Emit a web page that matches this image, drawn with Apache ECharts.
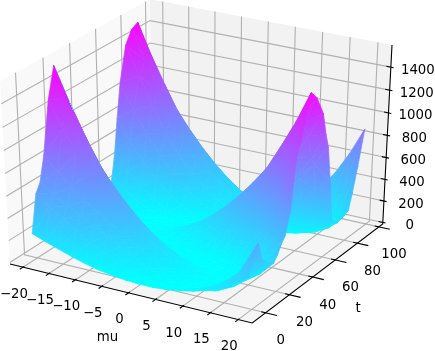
<!DOCTYPE html>
<html>
<head>
<meta charset="utf-8">
<style>
* { margin: 0; padding: 0; }
html, body { background: #fff; }
#chart-container { width: 435px; height: 351px; overflow: hidden; }
</style>
<script src="https://cdn.jsdelivr.net/npm/echarts@6/dist/echarts.min.js"></script>
</head>
<body>
<div id="chart-container"></div>
<script>
// surface samples, one row per t
const muValues = [-20, -17.5, -15, -12.5, -10, -7.5, -5, -2.5, 0, 2.5, 5, 7.5, 10, 12.5, 15, 17.5, 20]
const tValues = [-3, 1, 4.5, 8, 13, 18, 21, 24, 27, 31, 35, 39, 42.5, 46, 51, 57, 60, 62.5, 65, 68, 73, 78, 83, 86, 90, 95]
const zRows = [
    [230, 185, 145, 105, 70, 42, 22, 8, 1, 1, 10, 28, 55, 90, 135, 205, 300],
    [560, 470, 390, 310, 235, 172, 105, 55, 21, 3, 1, 16, 47, 94, 170, 280, 430],
    [640, 560, 480, 420, 360, 300, 220, 150, 91, 43, 13, 0, 6, 28, 120, 270, 540],
    [850, 730, 620, 530, 450, 370, 290, 210, 145, 81, 36, 9, 0, 9, 70, 190, 370],
    [1300, 1080, 900, 760, 640, 520, 400, 294, 202, 126, 69, 28, 6, 0, 60, 160, 300],
    [1560, 1290, 1040, 815, 653, 511, 386, 278, 188, 116, 61, 24, 4, 1, 50, 130, 260],
    [1450, 1180, 950, 740, 570, 429, 315, 219, 140, 79, 35, 9, 0, 9, 70, 170, 310],
    [1065, 848, 678, 532, 405, 294, 202, 126, 69, 28, 6, 0, 13, 42, 90, 200, 380],
    [932, 741, 588, 454, 336, 237, 154, 90, 42, 13, 0, 6, 28, 69, 130, 250, 430],
    [773, 617, 479, 358, 255, 169, 101, 50, 17, 1, 3, 22, 59, 113, 200, 390, 620],
    [505, 381, 274, 185, 113, 59, 22, 3, 1, 17, 50, 101, 169, 255, 400, 700, 1050],
    [274, 185, 113, 59, 22, 3, 1, 17, 50, 101, 169, 255, 358, 479, 640, 880, 1200],
    [169, 101, 50, 17, 1, 3, 22, 59, 113, 185, 274, 381, 505, 647, 815, 1020, 1380],
    [99, 49, 16, 1, 4, 24, 61, 116, 188, 278, 386, 511, 653, 813, 1030, 1260, 1530],
    [113, 59, 22, 3, 1, 17, 50, 101, 169, 255, 358, 479, 617, 773, 975, 1204, 1454],
    [154, 90, 42, 13, 0, 6, 28, 69, 126, 202, 294, 405, 532, 678, 848, 1065, 1280],
    [300, 190, 110, 50, 15, 0, 5, 25, 64, 120, 190, 280, 390, 510, 660, 850, 1080],
    [500, 350, 230, 140, 70, 25, 1, 17, 50, 101, 169, 255, 358, 479, 617, 773, 950],
    [790, 600, 440, 300, 190, 105, 45, 10, 6, 28, 69, 126, 202, 294, 405, 532, 650],
    [1090, 870, 680, 510, 370, 255, 165, 95, 40, 10, 0, 9, 35, 79, 130, 190, 270],
    [1390, 1150, 900, 680, 500, 358, 255, 169, 101, 50, 17, 1, 3, 22, 59, 113, 200],
    [1500, 1250, 1000, 790, 617, 479, 358, 255, 169, 101, 50, 17, 1, 3, 22, 90, 210],
    [1530, 1263, 1029, 813, 653, 511, 386, 278, 188, 116, 61, 24, 4, 1, 20, 90, 240],
    [1352, 1110, 890, 709, 560, 429, 315, 219, 140, 79, 35, 9, 0, 9, 40, 130, 380],
    [975, 773, 617, 479, 358, 255, 169, 101, 50, 17, 1, 3, 22, 59, 160, 340, 590],
    [926, 718, 538, 382, 254, 151, 76, 25, 2, 4, 34, 88, 170, 290, 450, 650, 890]
]
const muTicks = [-20, -15, -10, -5, 0, 5, 10, 15, 20]
const tTicks = [0, 20, 40, 60, 80, 100]
const zTicks = [0, 200, 400, 600, 800, 1000, 1200, 1400]

const muLim = [-22.5, 22.5]
const tLim = [-11, 103.5]
const zLim = [-15, 1590]
const colorMax = 1580

// same camera as a default mplot3d view, unit cube
const elev = 30 * Math.PI / 180
const azim = -60 * Math.PI / 180
const dist = 10
const boxAspect = [1, 1, 1]

function cross(a, b) {
    return [a[1] * b[2] - a[2] * b[1], a[2] * b[0] - a[0] * b[2], a[0] * b[1] - a[1] * b[0]]
}
function dot(a, b) {
    return a[0] * b[0] + a[1] * b[1] + a[2] * b[2]
}
function unit(a) {
    const n = Math.sqrt(dot(a, a))
    return [a[0] / n, a[1] / n, a[2] / n]
}
const boxCenter = boxAspect.map(v => v / 2)
const viewW = [Math.cos(elev) * Math.cos(azim), Math.cos(elev) * Math.sin(azim), Math.sin(elev)]
const eye = boxCenter.map((v, i) => v + dist * viewW[i])
const viewU = unit(cross([0, 0, 1], viewW))
const viewV = cross(viewW, viewU)

function camera(mu, t, z) {
    const p = [
        (mu - muLim[0]) / (muLim[1] - muLim[0]) * boxAspect[0] - eye[0],
        (t - tLim[0]) / (tLim[1] - tLim[0]) * boxAspect[1] - eye[1],
        (z - zLim[0]) / (zLim[1] - zLim[0]) * boxAspect[2] - eye[2]
    ]
    return [dot(viewU, p), dot(viewV, p), dot(viewW, p)]
}
function rawProject(mu, t, z) {
    const c = camera(mu, t, z)
    return [c[0] / -c[2], c[1] / -c[2]]
}

// scale the projection onto the picture from three corners of the box
const cornerLeft = rawProject(muLim[0], tLim[0], zLim[0])
const cornerFront = rawProject(muLim[1], tLim[0], zLim[0])
const cornerTop = rawProject(muLim[1], tLim[1], zLim[1])
const scaleX = (392 - 10) / (cornerTop[0] - cornerLeft[0])
const offsetX = 10 - scaleX * cornerLeft[0]
const scaleY = (323 - 45) / (cornerTop[1] - cornerFront[1])
const offsetY = 323 + scaleY * cornerFront[1]

function project(mu, t, z) {
    const r = rawProject(mu, t, z)
    return [offsetX + scaleX * r[0], offsetY - scaleY * r[1]]
}

// cells sorted far to near so the nearer ones paint over
const triangles = []
for (let j = 0; j < tValues.length - 1; j++) {
    for (let i = 0; i < muValues.length - 1; i++) {
        const a = [i, j], b = [i + 1, j], c = [i + 1, j + 1], d = [i, j + 1]
        const midMu = (muValues[i] + muValues[i + 1]) / 2
        const midT = (tValues[j] + tValues[j + 1]) / 2
        const midZ = (zRows[j][i] + zRows[j][i + 1] + zRows[j + 1][i] + zRows[j + 1][i + 1]) / 4
        const depth = camera(midMu, midT, midZ)[2]
        triangles.push({depth, corners: [a, b, c]})
        triangles.push({depth, corners: [a, c, d]})
    }
}
triangles.sort((p, q) => p.depth - q.depth)

function toPixel(api, mu, t, z) {
    return api.coord(project(mu, t, z))
}

function renderTriangle(params, api) {
    const corners = triangles[params.dataIndex].corners
    const pts = corners.map(c => toPixel(api, muValues[c[0]], tValues[c[1]], zRows[c[1]][c[0]]))
    const zs = corners.map(c => zRows[c[1]][c[0]])
    const ax = pts[1][0] - pts[0][0], ay = pts[1][1] - pts[0][1]
    const bx = pts[2][0] - pts[0][0], by = pts[2][1] - pts[0][1]
    const det = ax * by - ay * bx
    let fill
    let gx = 0, gy = 0
    if (Math.abs(det) > 1e-6) {
        gx = ((zs[1] - zs[0]) * by - (zs[2] - zs[0]) * ay) / det
        gy = ((zs[2] - zs[0]) * ax - (zs[1] - zs[0]) * bx) / det
    }
    const g2 = gx * gx + gy * gy
    if (g2 > 1e-6) {
        const sx = pts[0][0] + gx / g2 * (0 - zs[0])
        const sy = pts[0][1] + gy / g2 * (0 - zs[0])
        const ex = pts[0][0] + gx / g2 * (colorMax - zs[0])
        const ey = pts[0][1] + gy / g2 * (colorMax - zs[0])
        fill = new echarts.graphic.LinearGradient(sx, sy, ex, ey, [
            {offset: 0, color: '#00ffff'},
            {offset: 1, color: '#ff00ff'}
        ], true)
    } else {
        const f = Math.min(1, (zs[0] + zs[1] + zs[2]) / 3 / colorMax)
        fill = 'rgb(' + Math.round(255 * f) + ',' + Math.round(255 * (1 - f)) + ',255)'
    }
    return {
        type: 'polygon',
        shape: {points: pts},
        style: {fill: fill, stroke: fill, lineWidth: 0.7}
    }
}

// walls, grid, axis lines and ticks as 3d polylines
const walls = [
    {color: '#f9f9f9', pts: [[muLim[0], tLim[0], zLim[0]], [muLim[0], tLim[1], zLim[0]], [muLim[0], tLim[1], zLim[1]], [muLim[0], tLim[0], zLim[1]]]},
    {color: '#f2f2f2', pts: [[muLim[0], tLim[1], zLim[0]], [muLim[1], tLim[1], zLim[0]], [muLim[1], tLim[1], zLim[1]], [muLim[0], tLim[1], zLim[1]]]},
    {color: '#f5f5f5', pts: [[muLim[0], tLim[0], zLim[0]], [muLim[1], tLim[0], zLim[0]], [muLim[1], tLim[1], zLim[0]], [muLim[0], tLim[1], zLim[0]]]}
]
const lines = []
muTicks.forEach(m => {
    lines.push({color: '#b0b0b0', width: 1.1, pts: [[m, tLim[0], zLim[0]], [m, tLim[1], zLim[0]], [m, tLim[1], zLim[1]]]})
    lines.push({color: '#000', width: 1.1, pts: [[m, tLim[0] - 2.4, zLim[0]], [m, tLim[0] + 1, zLim[0]]]})
})
tTicks.forEach(t => {
    lines.push({color: '#b0b0b0', width: 1.1, pts: [[muLim[1], t, zLim[0]], [muLim[0], t, zLim[0]], [muLim[0], t, zLim[1]]]})
    lines.push({color: '#000', width: 1.1, pts: [[muLim[1] - 0.8, t, zLim[0]], [muLim[1] + 2, t, zLim[0]]]})
})
zTicks.forEach(z => {
    lines.push({color: '#b0b0b0', width: 1.1, pts: [[muLim[0], tLim[0], z], [muLim[0], tLim[1], z], [muLim[1], tLim[1], z]]})
    lines.push({color: '#000', width: 1.1, pts: [[muLim[1] - 0.8, tLim[1], z], [muLim[1] + 0.5, tLim[1], z]]})
})
lines.push({color: '#000', width: 1.1, pts: [[muLim[0], tLim[0], zLim[0]], [muLim[1], tLim[0], zLim[0]], [muLim[1], tLim[1], zLim[0]], [muLim[1], tLim[1], zLim[1]]]})

function renderWall(params, api) {
    const w = walls[params.dataIndex]
    return {
        type: 'polygon',
        shape: {points: w.pts.map(p => toPixel(api, p[0], p[1], p[2]))},
        style: {fill: w.color}
    }
}
function renderLine(params, api) {
    const l = lines[params.dataIndex]
    return {
        type: 'polyline',
        shape: {points: l.pts.map(p => toPixel(api, p[0], p[1], p[2]))},
        style: {fill: 'none', stroke: l.color, lineWidth: l.width}
    }
}

// tick texts sit a fixed distance off their tick
const labels = []
muTicks.forEach(m => labels.push({text: String(m).replace('-', '\u2212'), at: [m, tLim[0], zLim[0]], dx: -9, dy: 27}))
tTicks.forEach(t => labels.push({text: String(t), at: [muLim[1], t, zLim[0]], dx: 15, dy: 28}))
zTicks.forEach(z => labels.push({text: String(z), at: [muLim[1], tLim[1], z], dx: 27, dy: 3}))
labels.push({text: 'mu', at: [0, tLim[0], zLim[0]], dx: -21, dy: 45})
labels.push({text: 't', at: [muLim[1], 50, zLim[0]], dx: 34, dy: 40})

function renderLabel(params, api) {
    const l = labels[params.dataIndex]
    const p = toPixel(api, l.at[0], l.at[1], l.at[2])
    return {
        type: 'text',
        x: p[0] + l.dx,
        y: p[1] + l.dy,
        style: {
            text: l.text,
            font: '13.3px "DejaVu Sans"',
            fill: '#000',
            align: 'center',
            verticalAlign: 'middle'
        }
    }
}

function customSeries(list, render, z) {
    return {
        type: 'custom',
        coordinateSystem: 'cartesian2d',
        data: list.map((item, i) => [i]),
        encode: {x: 0, y: 0},
        renderItem: render,
        clip: false,
        silent: true,
        animation: false,
        progressive: 0,
        z: z
    }
}

const myChart = echarts.init(document.getElementById('chart-container'), null, {renderer: 'canvas'})
myChart.setOption({
    animation: false,
    backgroundColor: '#fff',
    grid: {left: 0, right: 0, top: 0, bottom: 0},
    xAxis: {type: 'value', min: 0, max: 435, show: false},
    yAxis: {type: 'value', min: 0, max: 351, inverse: true, show: false},
    series: [
        customSeries(walls, renderWall, 1),
        customSeries(lines, renderLine, 2),
        customSeries(triangles, renderTriangle, 3),
        customSeries(labels, renderLabel, 4)
    ]
})
</script>
</body>
</html>
